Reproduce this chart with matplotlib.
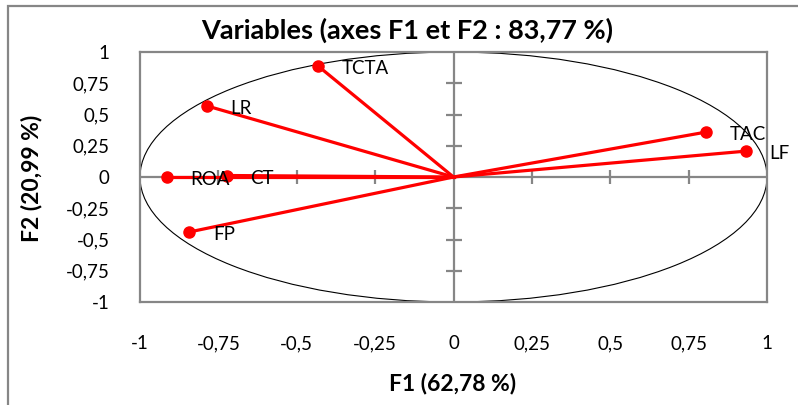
import matplotlib
matplotlib.use("Agg")
import matplotlib.pyplot as plt
import numpy as np
from matplotlib.patches import Ellipse, Rectangle

plt.rcParams['font.family'] = ['Lato', 'DejaVu Sans']

variables = ["TCTA", "LR", "ROA", "CT", "FP", "TAC", "LF"]
f1 = [-0.433, -0.787, -0.915, -0.723, -0.843, 0.807, 0.933]
f2 = [0.89, 0.569, 0.0, 0.012, -0.44, 0.36, 0.207]
tick_vals = [-1, -0.75, -0.5, -0.25, 0, 0.25, 0.5, 0.75, 1]
tick_labels = ["-1", "-0,75", "-0,5", "-0,25", "0", "0,25", "0,5", "0,75", "1"]
title = "Variables (axes F1 et F2 : 83,77 %)"
xlabel = "F1 (62,78 %)"
ylabel = "F2 (20,99 %)"

W, H = 798, 405
fig = plt.figure(figsize=(W / 100, H / 100), dpi=100)
ax = fig.add_axes([140 / W, (H - 302) / H, 627 / W, 250 / H])
ax.set_xlim(-1, 1)
ax.set_ylim(-1, 1)

gray = "#868686"
for s in ax.spines.values():
    s.set_color(gray)
    s.set_linewidth(1.6)

# center axes
ax.axhline(0, color=gray, lw=1.6, zorder=1)
ax.axvline(0, color=gray, lw=1.6, zorder=1)
inner = [v for v in tick_vals if v not in (-1, 0, 1)]
ax.plot(inner, [0] * len(inner), ls="none", marker="|", ms=10, mew=1.6, color=gray, zorder=1)
ax.plot([0] * len(inner), inner, ls="none", marker="_", ms=11, mew=1.6, color=gray, zorder=1)

# correlation circle
ax.add_patch(Ellipse((0, 0), 2, 2, fill=False, ec="black", lw=0.8, zorder=2))

for x, y, name in zip(f1, f2, variables):
    ax.plot([0, x], [0, y], color="#FF0000", lw=2.3, zorder=3)
    ax.plot([x], [y], marker="o", ms=8, color="#FF0000", zorder=4)
    ax.annotate(name, (x, y), xytext=(17, -2), textcoords="offset points",
                ha="left", va="center", fontsize=13.5, color="black", zorder=5)

ax.set_xticks(tick_vals)
ax.set_xticklabels(tick_labels)
ax.set_yticks(tick_vals)
ax.set_yticklabels(tick_labels)
ax.tick_params(axis="x", length=0, pad=24, labelsize=13.5)
ax.tick_params(axis="y", length=0, pad=22, labelsize=13.5)

fig.text(407 / W, 1 - 30 / H, title, ha="center", va="center", fontsize=19.5, fontweight="bold")
fig.text(453 / W, 1 - 383 / H, xlabel, ha="center", va="center", fontsize=16.5, fontweight="bold")
fig.text(32 / W, 1 - 178 / H, ylabel, ha="center", va="center", rotation=90, fontsize=16.5, fontweight="bold")

fig.patches.append(Rectangle((8 / W, -0.1), 1.2, 1 - 6 / H + 0.1, transform=fig.transFigure,
                             fill=False, ec=gray, lw=1.6, figure=fig))

fig.savefig("out.png", dpi=100)
